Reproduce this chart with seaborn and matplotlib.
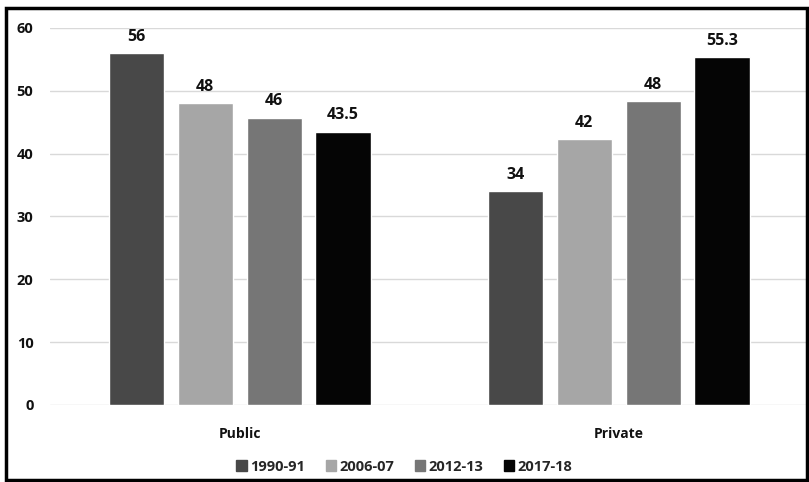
import matplotlib
matplotlib.use("Agg")
import matplotlib.pyplot as plt
import matplotlib.patches as mpatches
import seaborn as sns
import pandas as pd

# data
sectors = ["Public", "Private"]
years = ["1990-91", "2006-07", "2012-13", "2017-18"]
public_vals = [56, 48, 45.7, 43.5]
private_vals = [34, 42.3, 48.3, 55.3]
public_labels = ["56", "48", "46", "43.5"]
private_labels = ["34", "42", "48", "55.3"]
colors = ["#484848", "#a6a6a6", "#767676", "#050505"]

df = pd.DataFrame({
    "sector": ["Public"] * 4 + ["Private"] * 4,
    "year": years + years,
    "value": public_vals + private_vals,
})

sns.set_style("white")
plt.rcParams["font.family"] = ["Open Sans", "DejaVu Sans"]
plt.rcParams["font.weight"] = "bold"

fig = plt.figure(figsize=(8.09, 4.82), dpi=100)
ax = fig.add_axes([0.062, 0.16, 0.937, 0.782])

sns.barplot(data=df, x="sector", y="value", hue="year", order=sectors,
            hue_order=years, palette=colors, width=0.727, gap=0.2,
            saturation=1, ax=ax, legend=False)

for i, cont in enumerate(ax.containers):
    ax.bar_label(cont, labels=[public_labels[i], private_labels[i]],
                 padding=6, fontsize=11.5, fontweight="bold", color="#111111")

ax.set_ylim(0, 60)
ax.set_xlim(-0.5, 1.5)
ax.set_yticks(range(0, 61, 10))
ax.yaxis.grid(True, color="#d9d9d9", linewidth=1)
ax.set_axisbelow(True)
for s in ax.spines.values():
    s.set_visible(False)
ax.tick_params(axis="y", length=0, pad=12, labelsize=10.5, labelcolor="#111111")
ax.tick_params(axis="x", length=0, pad=16, labelsize=10, labelcolor="#111111")
for lab in ax.get_xticklabels() + ax.get_yticklabels():
    lab.set_fontweight("bold")
ax.set_xlabel("")
ax.set_ylabel("")

handles = [mpatches.Patch(color=c, label=y) for c, y in zip(colors, years)]
fig.legend(handles=handles, loc="center", bbox_to_anchor=(0.5, 0.032),
           ncol=4, frameon=False, fontsize=10.5, handlelength=0.7,
           handleheight=0.7, handletextpad=0.25, columnspacing=1.4)

# black frame around the whole picture
fig.patches.append(mpatches.Rectangle((0.007, 0.004), 0.99, 0.98,
                                      transform=fig.transFigure, fill=False,
                                      edgecolor="black", linewidth=2.5))

fig.savefig("out.png", dpi=100)
